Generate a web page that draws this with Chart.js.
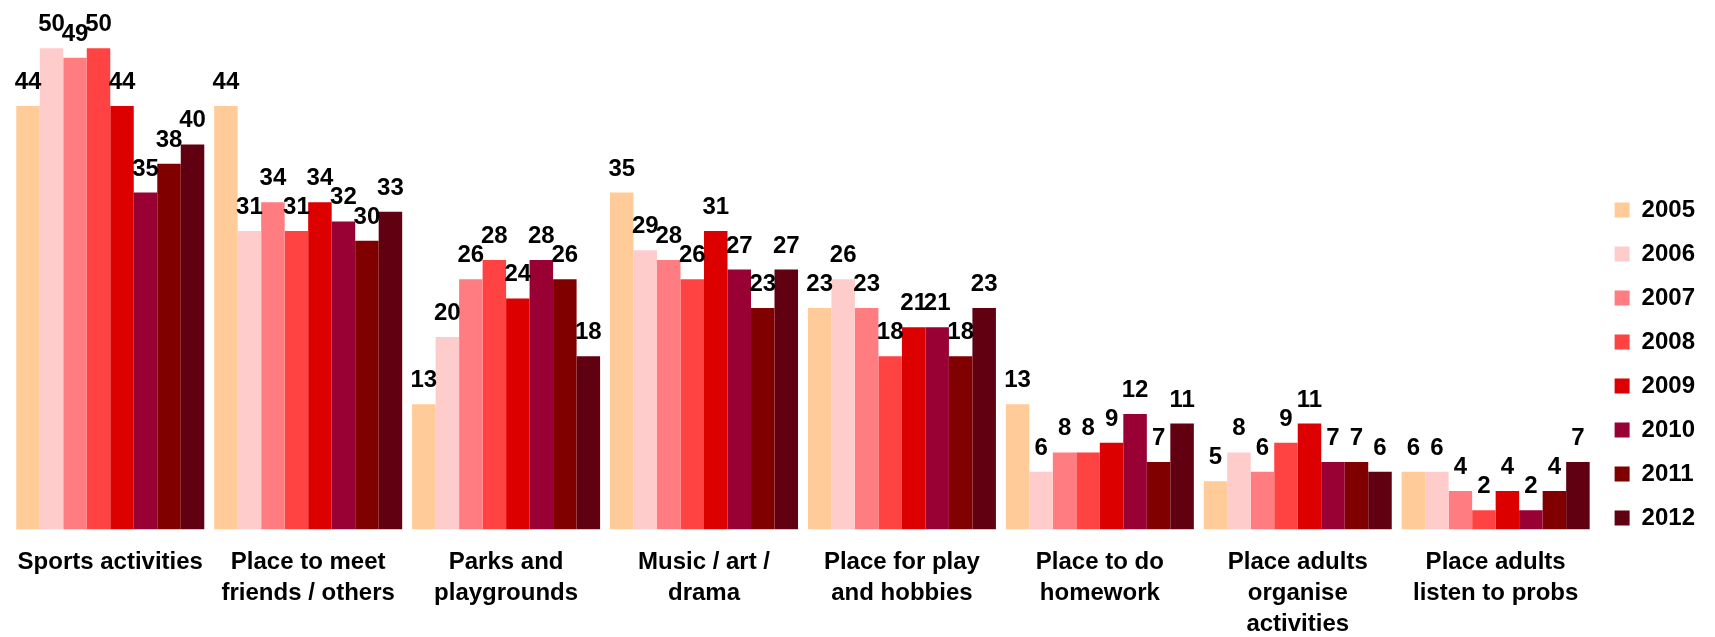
<!DOCTYPE html>
<html>
<head>
<meta charset="utf-8">
<script src="https://cdn.jsdelivr.net/npm/chart.js@4.4.1/dist/chart.umd.min.js"></script>
<style>
  html, body { margin: 0; padding: 0; background: #fff; }
  #wrap { width: 1715px; height: 637px; }
</style>
</head>
<body>
<div id="wrap"><canvas id="YouthChart"></canvas></div>
<script>
const categories = [
  'Sports activities',
  ['Place to meet', 'friends / others'],
  ['Parks and', 'playgrounds'],
  ['Music / art /', 'drama'],
  ['Place for play', 'and hobbies'],
  ['Place to do', 'homework'],
  ['Place adults', 'organise', 'activities'],
  ['Place adults', 'listen to probs'],
];

const years = ['2005', '2006', '2007', '2008', '2009', '2010', '2011', '2012'];

const values2005 = [44, 44, 13, 35, 23, 13, 5, 6];
const values2006 = [50, 31, 20, 29, 26, 6, 8, 6];
const values2007 = [49, 34, 26, 28, 23, 8, 6, 4];
const values2008 = [50, 31, 28, 26, 18, 8, 9, 2];
const values2009 = [44, 34, 24, 31, 21, 9, 11, 4];
const values2010 = [35, 32, 28, 27, 21, 12, 7, 2];
const values2011 = [38, 30, 26, 23, 18, 7, 7, 4];
const values2012 = [40, 33, 18, 27, 23, 11, 6, 7];

const seriesValues = [values2005, values2006, values2007, values2008, values2009, values2010, values2011, values2012];
const seriesColors = ['#FFCC99', '#FFCCCC', '#FF7C80', '#FF4343', '#DD0000', '#990033', '#800000', '#600010'];

const FONT = '"Liberation Sans", Arial, sans-serif';

// numbers above every bar
const barValueLabels = {
  id: 'barValueLabels',
  afterDatasetsDraw(chart) {
    const ctx = chart.ctx;
    ctx.save();
    ctx.font = 'bold 24px ' + FONT;
    ctx.fillStyle = '#000';
    ctx.textAlign = 'center';
    ctx.textBaseline = 'alphabetic';
    chart.data.datasets.forEach((ds, i) => {
      chart.getDatasetMeta(i).data.forEach((bar, j) => {
        ctx.fillText(ds.data[j], bar.x, bar.y - 17);
      });
    });
    ctx.restore();
  },
};

new Chart(document.getElementById('YouthChart').getContext('2d'), {
  type: 'bar',
  data: {
    labels: categories,
    datasets: years.map((year, i) => ({
      label: year,
      data: seriesValues[i],
      backgroundColor: seriesColors[i],
      borderWidth: 0,
      categoryPercentage: 0.95,
      barPercentage: 1.0,
    })),
  },
  options: {
    responsive: true,
    maintainAspectRatio: false,
    animation: false,
    layout: {
      // x labels get measured taller than they draw, pull them back down
      padding: { left: 9, right: 10, top: 0, bottom: -20 },
    },
    scales: {
      x: {
        grid: { display: false, drawTicks: false },
        border: { display: false },
        ticks: {
          autoSkip: false,
          maxRotation: 0,
          padding: 17,
          color: '#000',
          font: { family: FONT, size: 24, weight: 'bold', lineHeight: 1.3 },
        },
      },
      y: {
        display: false,
        min: 0,
        max: 55,
      },
    },
    plugins: {
      tooltip: { enabled: false },
      legend: {
        position: 'right',
        align: 'center',
        // empty title only pushes the key down to where it sits in the original
        title: { display: true, text: '', padding: { top: 42, bottom: 0 }, font: { size: 24 } },
        labels: {
          boxWidth: 15,
          boxHeight: 15,
          padding: 20,
          color: '#000',
          font: { family: FONT, size: 24, weight: 'bold' },
        },
      },
    },
  },
  plugins: [barValueLabels],
});
</script>
</body>
</html>
